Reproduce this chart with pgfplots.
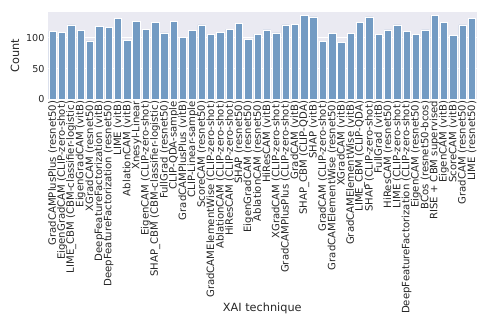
\documentclass[border=0pt]{standalone}
\usepackage{pgfplots}
\pgfplotsset{compat=1.18}
\usepackage{fontspec}
\setmainfont{DejaVu Sans}
\definecolor{barblue}{RGB}{115,155,195}
\definecolor{sbbg}{RGB}{234,234,242}

\begin{document}
\begin{tikzpicture}
\begin{axis}[
    name=ax,
    scale only axis,
    width=428.5pt,
    height=87.3pt,
    ybar,
    bar width=0.8,
    xmin=-0.5, xmax=45.5,
    ymin=0, ymax=142,
    ytick={0,50,100},
    xtick={0,...,45},
    xticklabels={
        GradCAMPlusPlus (resnet50),
        EigenGradCAM (CLIP-zero-shot),
        LIME\_CBM (CBM-classifier-logistic),
        EigenGradCAM (vitB),
        XGradCAM (resnet50),
        DeepFeatureFactorization (vitB),
        DeepFeatureFactorization (resnet50),
        LIME (vitB),
        AblationCAM (vitB),
        Xnesyl-Linear,
        EigenCAM (CLIP-zero-shot),
        SHAP\_CBM (CBM-classifier-logistic),
        FullGrad (resnet50),
        CLIP-QDA-sample,
        GradCAMPlusPlus (vitB),
        CLIP-Linear-sample,
        ScoreCAM (resnet50),
        GradCAMElementWise (CLIP-zero-shot),
        AblationCAM (CLIP-zero-shot),
        HiResCAM (CLIP-zero-shot),
        SHAP (resnet50),
        EigenGradCAM (resnet50),
        AblationCAM (resnet50),
        HiResCAM (vitB),
        XGradCAM (CLIP-zero-shot),
        GradCAMPlusPlus (CLIP-zero-shot),
        GradCAM (vitB),
        SHAP\_CBM (CLIP-QDA),
        SHAP (vitB),
        GradCAM (CLIP-zero-shot),
        GradCAMElementWise (resnet50),
        XGradCAM (vitB),
        GradCAMElementWise (vitB),
        LIME\_CBM (CLIP-QDA),
        SHAP (CLIP-zero-shot),
        FullGrad (vitB),
        HiResCAM (resnet50),
        LIME (CLIP-zero-shot),
        DeepFeatureFactorization (CLIP-zero-shot),
        EigenCAM (resnet50),
        BCos (resnet50-bcos),
        RISE + CBM supervised,
        EigenCAM (vitB),
        ScoreCAM (vitB),
        GradCAM (resnet50),
        LIME (resnet50)},
    xticklabel style={rotate=90, anchor=east, inner sep=1.5pt,
        font=\fontsize{10.1}{10.1}\selectfont},
    yticklabel style={font=\fontsize{9.6}{9.6}\selectfont},
    ticklabel style={text=black!85},
    /pgf/number format/assume math mode=true,
    major tick length=0pt,
    axis line style={draw=none},
    axis background/.style={fill=sbbg},
    ymajorgrids,
    grid style={white, line width=1pt},
    xlabel={XAI technique},
    ylabel={Count},
    label style={font=\fontsize{11.3}{11.3}\selectfont, text=black!85},
    xlabel style={at={(axis description cs:0.5,0)}, anchor=base, yshift=-211.7pt},
]
\addplot[fill=barblue, draw=white, line width=0.6pt] coordinates {
    (0,111) (1,109) (2,121) (3,112) (4,95) (5,118) (6,117) (7,131)
    (8,96) (9,127) (10,114) (11,125) (12,108) (13,127) (14,101) (15,112)
    (16,121) (17,106) (18,109) (19,114) (20,124) (21,97) (22,106) (23,113)
    (24,108) (25,121) (26,122) (27,136) (28,134) (29,94) (30,107) (31,92)
    (32,107) (33,125) (34,134) (35,105) (36,113) (37,121) (38,110) (39,106)
    (40,113) (41,136) (42,125) (43,104) (44,121) (45,131)
};
\end{axis}
\pgfresetboundingbox
\path ([shift={(-48pt,-226.7pt)}]ax.south west) rectangle ([shift={(11.5pt,12pt)}]ax.north east);
\end{tikzpicture}
\end{document}
